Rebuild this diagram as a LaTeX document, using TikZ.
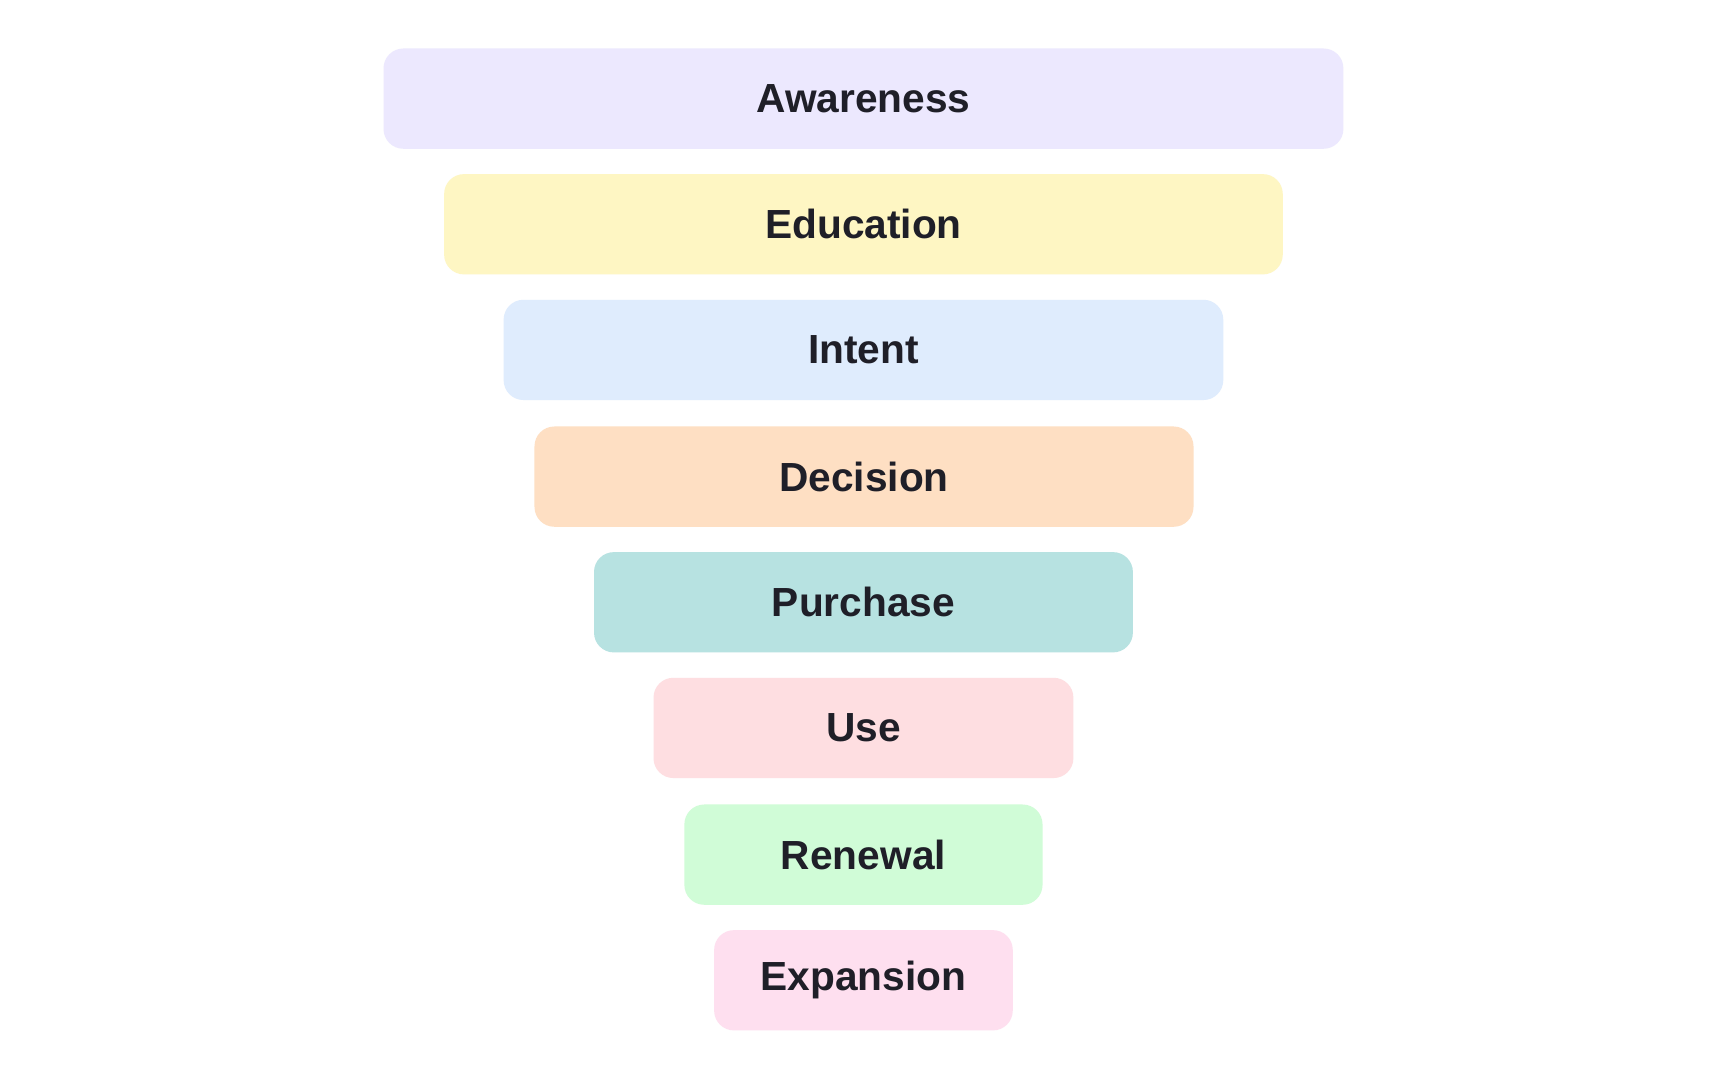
\documentclass[tikz,border=0pt]{standalone}
\usepackage{fontspec}
\setmainfont{Liberation Sans}
\begin{document}
\begin{tikzpicture}[x=0.02cm,y=-0.02cm,
  stage/.style={rounded corners=0.36cm, draw=none, inner sep=0pt, text=txt, font=\fontsize{21}{25}\selectfont\bfseries}]
\definecolor{txt}{HTML}{1F1F28}
\definecolor{cA}{HTML}{ECE8FE}
\definecolor{cB}{HTML}{FEF6C3}
\definecolor{cC}{HTML}{DFECFD}
\definecolor{cD}{HTML}{FEDFC3}
\definecolor{cE}{HTML}{B7E2E1}
\definecolor{cF}{HTML}{FEDEE1}
\definecolor{cG}{HTML}{D0FCD7}
\definecolor{cH}{HTML}{FEDFEF}
\useasboundingbox[fill=white] (0,0) rectangle (1568,980);
\foreach \l/\r/\t/\c/\name/\txt in {
 348/1219/44/cA/a/Awareness,
 403/1164/158/cB/b/Education,
 457/1110/272/cC/c/Intent,
 485/1083/387/cD/d/Decision,
 539/1028/501/cE/e/Purchase,
 593/974/615/cF/f/Use,
 621/946/730/cG/g/Renewal,
 648/919/844/cH/h/Expansion}{
  \fill[\c, rounded corners=0.36cm] (\l,\t) rectangle (\r,\t+91);
  \node[stage] (\name) at ({(\l+\r)/2},\t+45.5) {\txt};
}
\end{tikzpicture}
\end{document}
